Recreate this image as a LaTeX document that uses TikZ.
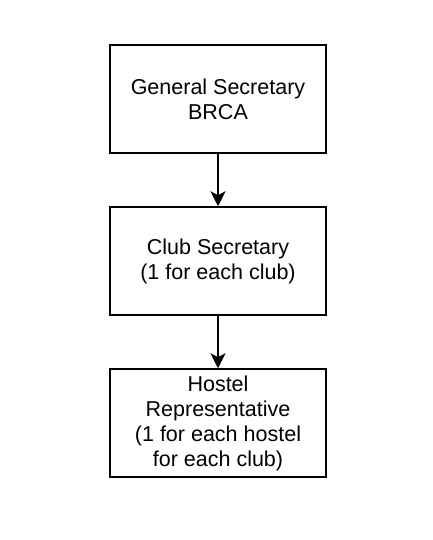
\documentclass[tikz,border=0pt]{standalone}
\usepackage{fontspec}
\setmainfont{Liberation Sans}
\usetikzlibrary{arrows.meta}
\begin{document}
\begin{tikzpicture}[x=1pt,y=1pt,
  box/.style={draw, line width=1.5pt, minimum width=216pt, minimum height=108pt, inner sep=0pt, align=center, font=\fontsize{21.5}{25}\selectfont},
  conn/.style={line width=1.5pt, -{Stealth[length=15pt,width=15pt,inset=4pt]}}]
\useasboundingbox (0,0) rectangle (432,540);
\node[box] (gs) at (218,441) {General Secretary\\BRCA};
\node[box] (cs) at (218,279) {Club Secretary\\(1 for each club)};
\node[box] (hr) at (218,117) {Hostel\\Representative\\(1 for each hostel\\for each club)};
\draw[conn] (gs) -- (cs);
\draw[conn] (cs) -- (hr);
\end{tikzpicture}
\end{document}
